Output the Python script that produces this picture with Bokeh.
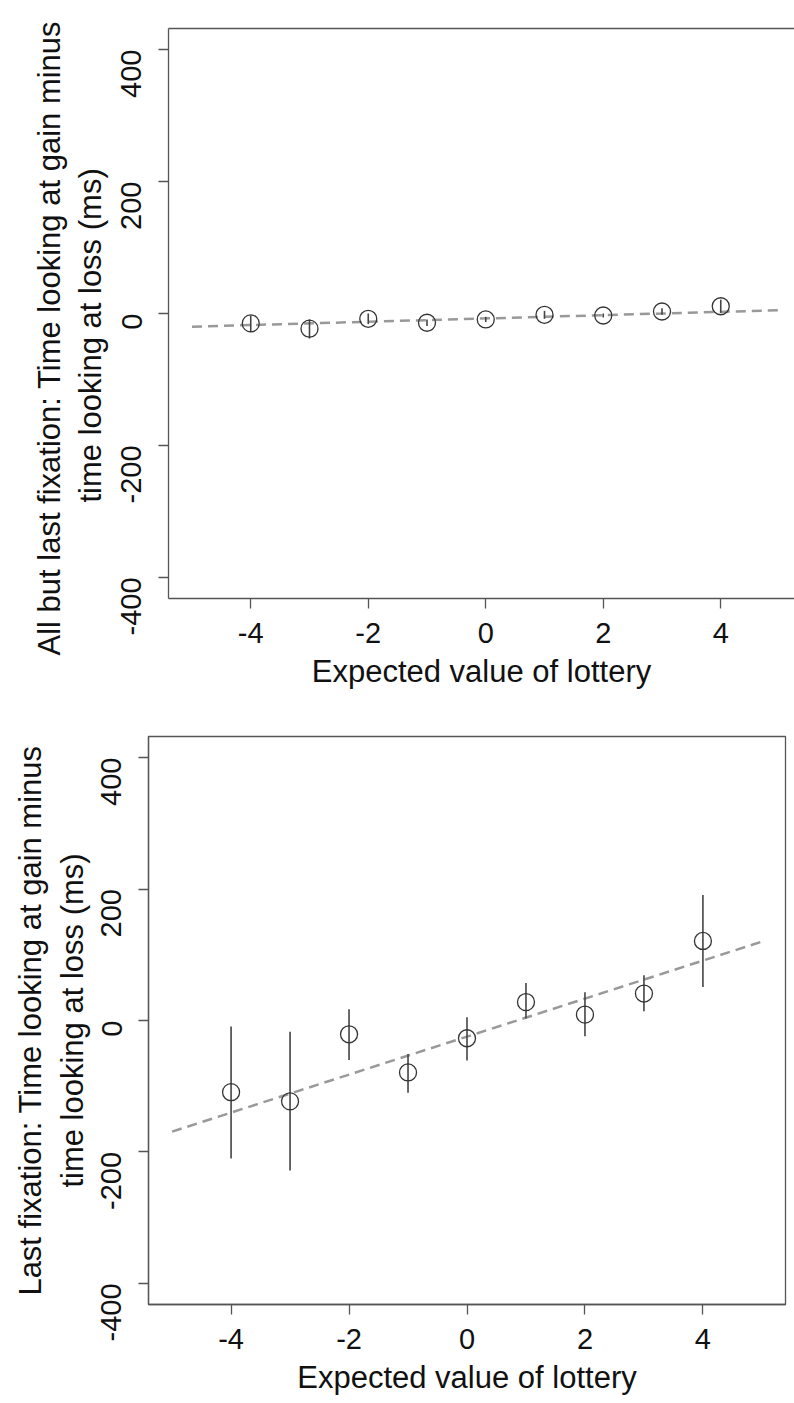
import math
from bokeh.plotting import figure
from bokeh.models import Range1d, LinearAxis, FixedTicker, ColumnDataSource, Title
from bokeh.embed import file_html
from bokeh.resources import INLINE

# ---- data ----
ev = [-4, -3, -2, -1, 0, 1, 2, 3, 4]

top_mean = [-15, -23, -8, -14, -9, -2, -3, 3, 11]
top_lo = [-28, -38, -16, -19, -13, -8, -6, -2, 1]
top_hi = [-3, -9, 0, -9, -5, 4, 0, 8, 21]

bot_mean = [-109, -123, -21, -79, -27, 28, 9, 41, 121]
bot_lo = [-210, -228, -60, -110, -61, 3, -24, 14, 51]
bot_hi = [-9, -17, 17, -51, 5, 57, 43, 69, 191]

fit_x = [-5, 5]
top_fit = [-20, 5]
bot_fit = [-169, 120]

x_ticks = [-4, -2, 0, 2, 4]
y_ticks = [-400, -200, 0, 200, 400]
x_label = "Expected value of lottery"
top_ylabel = ["All but last fixation: Time looking at gain minus",
              "time looking at loss (ms)"]
bot_ylabel = "Last fixation: Time looking at gain minus\ntime looking at loss (ms)"

FONT = "Liberation Sans"
AX = "#555555"
TXT = "#111111"


def style_axis(ax, ticks, vertical=False):
    ax.ticker = FixedTicker(ticks=ticks)
    ax.major_label_overrides = {t: str(t) for t in ticks}
    ax.axis_line_color = AX
    ax.axis_line_width = 1.3
    ax.major_tick_line_color = AX
    ax.major_tick_line_width = 1.3
    ax.major_tick_out = 10
    ax.major_tick_in = 0
    ax.minor_tick_line_color = None
    ax.major_label_text_font = FONT
    ax.major_label_text_font_size = "29px"
    ax.major_label_text_color = TXT
    ax.axis_label_text_font = FONT
    ax.axis_label_text_font_size = "31px"
    ax.axis_label_text_font_style = "normal"
    ax.axis_label_text_color = TXT
    if vertical:
        ax.major_label_orientation = math.pi / 2


def make(fw, fh, mean, lo, hi, fit, x_end, bl, bt, bb, br, full_box):
    p = figure(frame_width=fw, frame_height=fh, output_backend="svg", toolbar_location=None,
               x_range=Range1d(-5.4, x_end), y_range=Range1d(-432, 432),
               min_border_left=bl, min_border_top=bt, min_border_bottom=bb,
               min_border_right=br)
    p.background_fill_color = "white"
    p.border_fill_color = "white"
    p.xgrid.visible = False
    p.ygrid.visible = False

    xa = p.below[0]
    ya = p.left[0]
    xa.axis_label = x_label
    style_axis(xa, x_ticks)
    xa.major_label_standoff = 14
    xa.axis_label_standoff = 8
    style_axis(ya, y_ticks, vertical=True)
    ya.major_label_standoff = 27

    if full_box:
        p.outline_line_color = AX
        p.outline_line_width = 1.3
        p.outline_line_alpha = 1.0
    else:
        p.outline_line_color = None
        top = LinearAxis(ticker=FixedTicker(ticks=[]))
        top.axis_line_color = AX
        top.axis_line_width = 1.3
        top.major_tick_line_color = None
        top.minor_tick_line_color = None
        top.major_label_text_font_size = "0px"
        top.major_label_standoff = 0
        p.add_layout(top, "above")

    p.line(fit_x, fit, line_color="#999999", line_width=2.5, line_dash="10 6")
    src = ColumnDataSource(dict(x=ev, y=mean, lo=lo, hi=hi))
    p.segment(x0="x", y0="lo", x1="x", y1="hi", source=src,
              line_color="#444444", line_width=1.6)
    p.scatter(x="x", y="y", source=src, marker="circle", size=17,
              fill_color=None, line_color="#333333", line_width=1.3)
    return p


p_top = make(626, 570, top_mean, top_lo, top_hi, top_fit,
             -5.4 + 626 / 58.75, 168, 28, 102, 0, False)
# top panel: y title as two left-side titles (second line nearest the axis)
for text, off, sto in [(top_ylabel[1], 96, 0), (top_ylabel[0], -57, 8)]:
    p_top.add_layout(Title(text=text, align="left", offset=off, standoff=sto,
                           vertical_align="middle", text_font=FONT,
                           text_font_size="31px", text_font_style="normal",
                           text_color=TXT), "left")

p_bot = make(637, 568, bot_mean, bot_lo, bot_hi, bot_fit,
             5.4, 148, 36, 99, 9, True)
p_bot.left[0].axis_label = bot_ylabel
p_bot.left[0].axis_label_standoff = -1

open("out.html", "w").write(file_html([p_top, p_bot], INLINE))
